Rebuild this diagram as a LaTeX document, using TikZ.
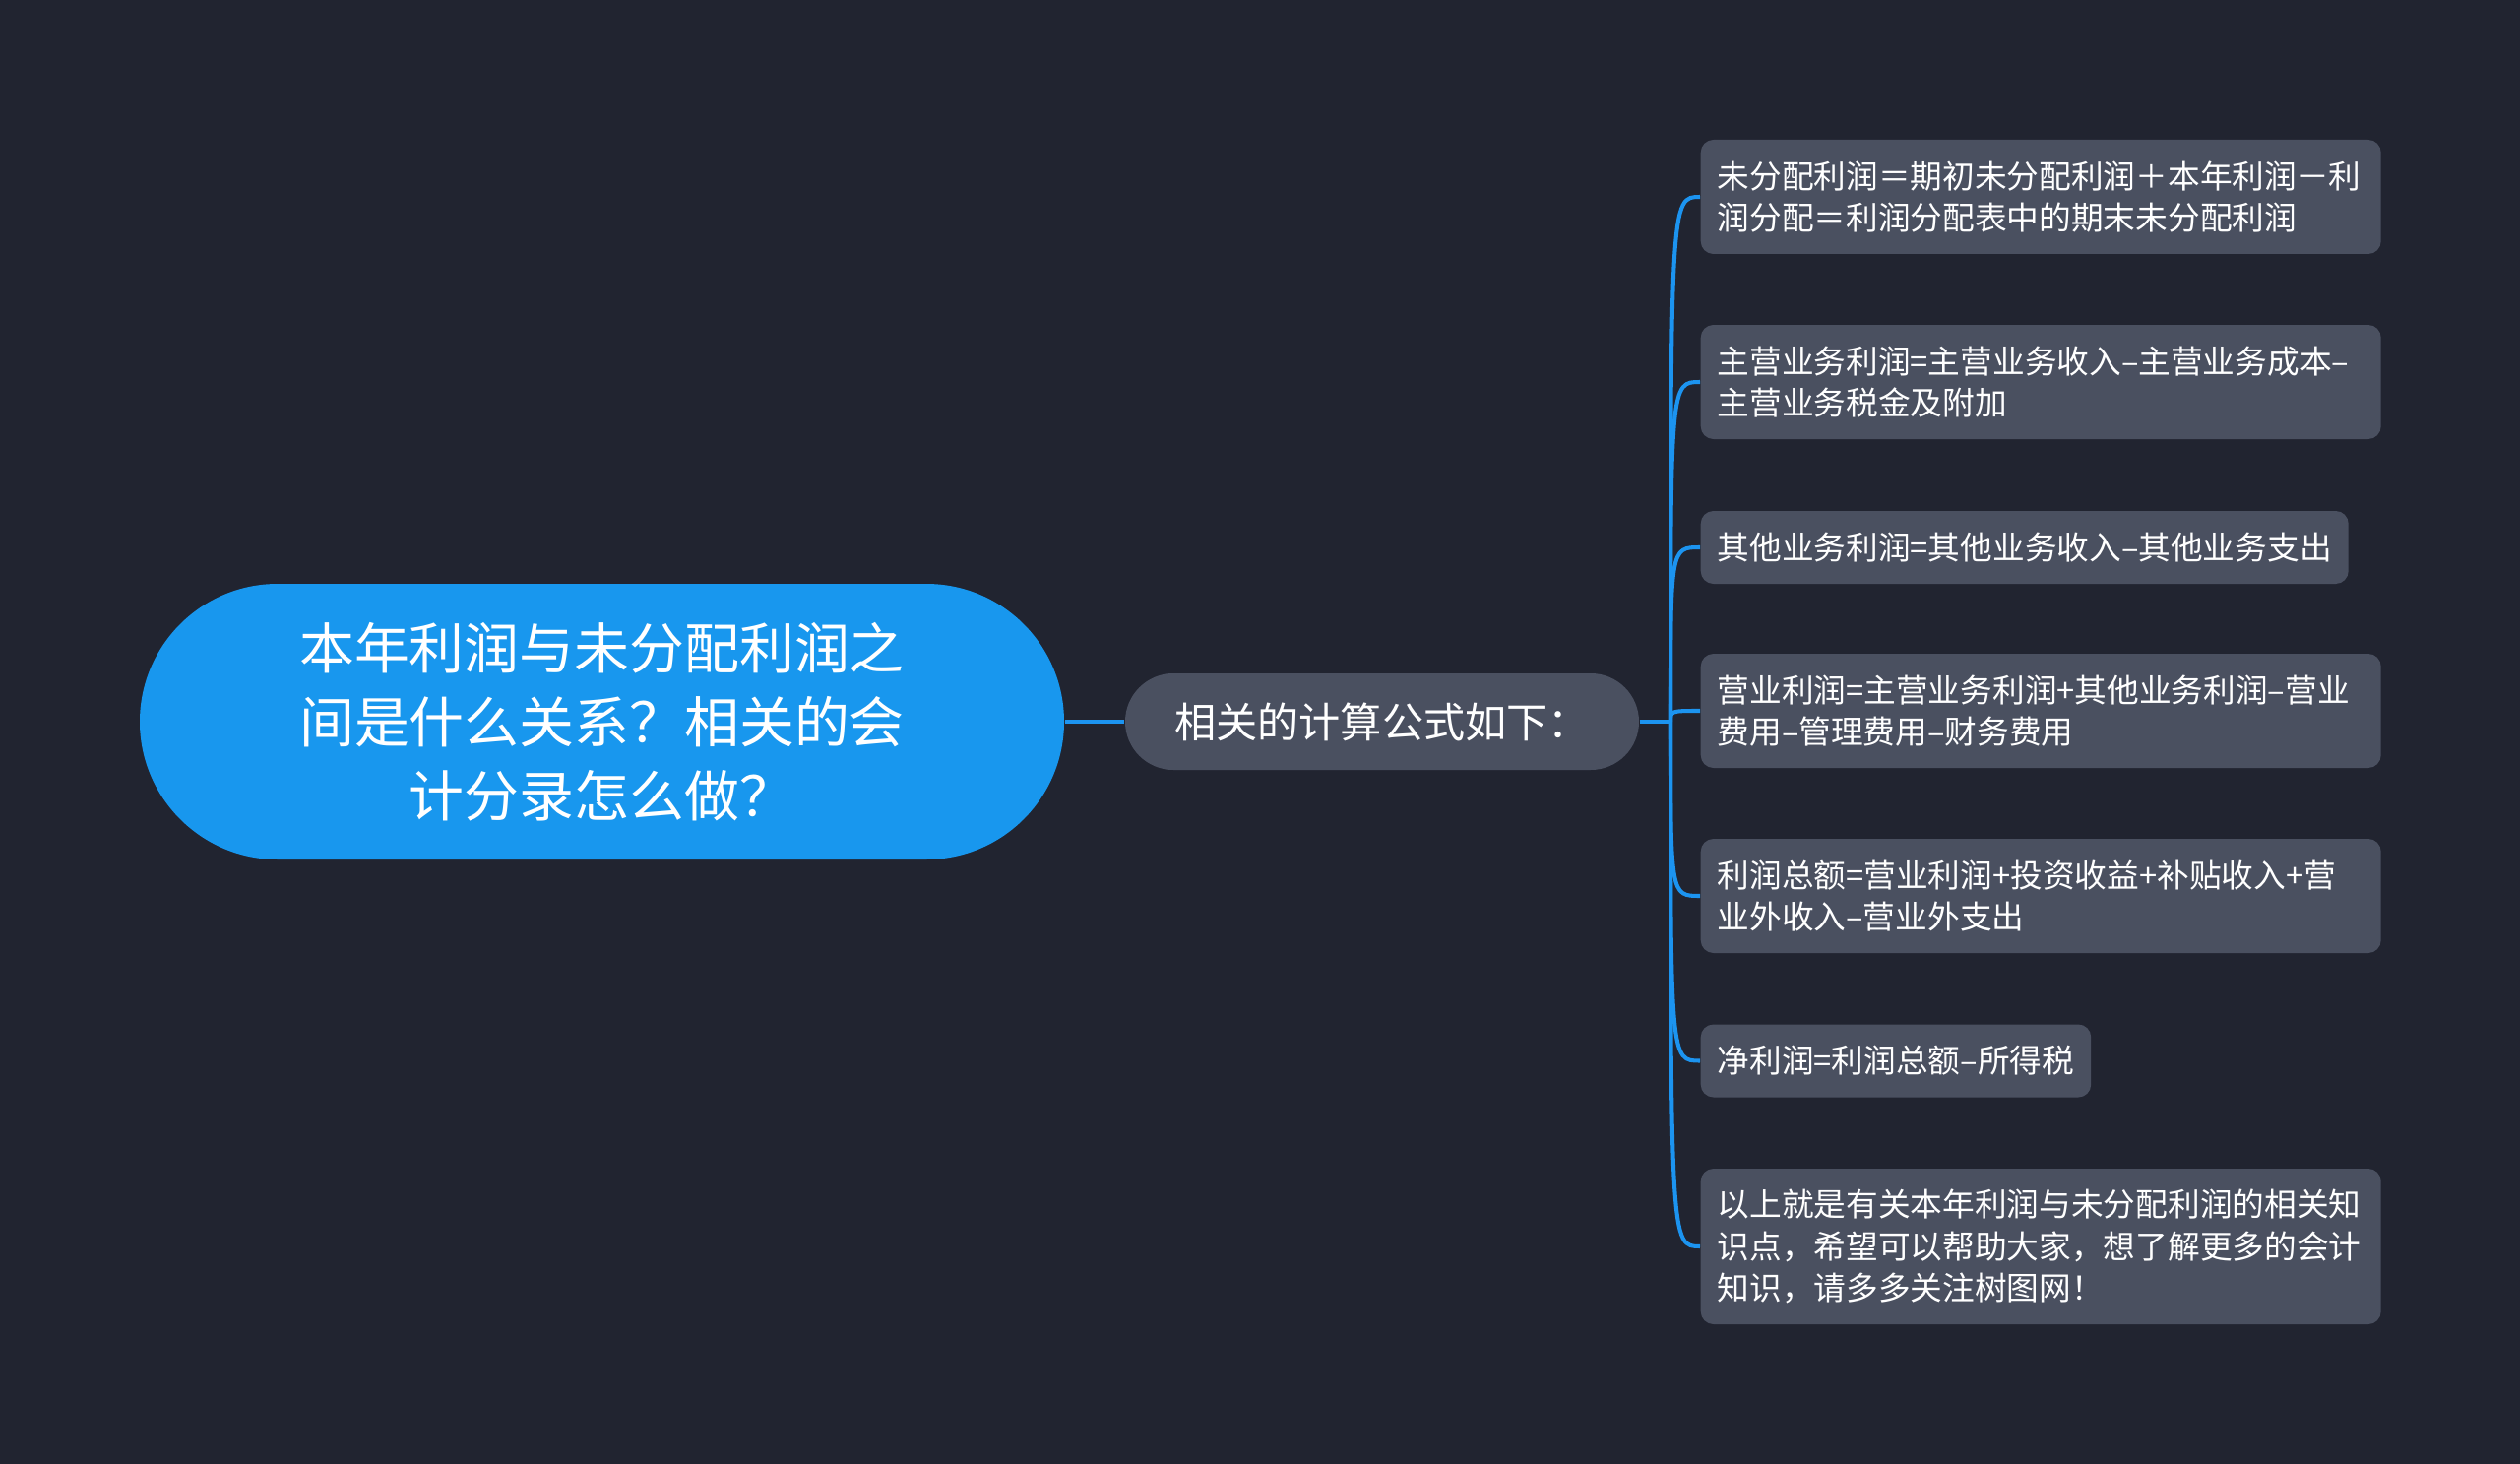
\documentclass[tikz,border=0pt]{standalone}
\usepackage{fontspec}
\setmainfont{Noto Sans CJK SC}
\usepackage{xcolor}
\usepackage{tikz}

\definecolor{bgdark}{RGB}{33,36,48}
\definecolor{boxgray}{RGB}{74,80,96}
\definecolor{rootblue}{RGB}{24,151,238}
\definecolor{linkblue}{RGB}{28,148,240}

\begin{document}
\begin{tikzpicture}[
  leaf/.style={fill=boxgray,text=white,rounded corners=0.13cm,anchor=west,align=left,
    inner xsep=0.17cm,inner ysep=0pt,font=\fontsize{9.3}{12}\selectfont},
  wide/.style={text width=6.57cm},
  link/.style={draw=linkblue,line width=1.15pt}]
\fill[bgdark] (0,0) rectangle (25.6,-14.87);
\useasboundingbox (0,0) rectangle (25.6,-14.87);
\node[fill=rootblue,text=white,rounded corners=1.4cm,minimum width=9.39cm,minimum height=2.8cm,
  align=center,font=\fontsize{15.9}{21.3}\selectfont] (root) at (6.115,-7.33)
  {本年利润与未分配利润之\\间是什么关系？相关的会\\计分录怎么做？};
\node[fill=boxgray,text=white,rounded corners=0.49cm,minimum width=5.22cm,minimum height=0.98cm,
  font=\fontsize{12}{14}\selectfont] (calc) at (14.04,-7.33) {相关的计算公式如下：};
\node[leaf,wide,minimum height=1.16cm] (f1) at (17.27,-2.00)
  {未分配利润＝期初未分配利润＋本年利润－利\\润分配＝利润分配表中的期末未分配利润};
\node[leaf,wide,minimum height=1.16cm] (f2) at (17.27,-3.88)
  {主营业务利润=主营业务收入–主营业务成本–\\主营业务税金及附加};
\node[leaf,minimum height=0.74cm] (f3) at (17.27,-5.56)
  {其他业务利润=其他业务收入–其他业务支出};
\node[leaf,wide,minimum height=1.16cm] (f4) at (17.27,-7.22)
  {营业利润=主营业务利润+其他业务利润–营业\\费用–管理费用–财务费用};
\node[leaf,wide,minimum height=1.16cm] (f5) at (17.27,-9.10)
  {利润总额=营业利润+投资收益+补贴收入+营\\业外收入–营业外支出};
\node[leaf,minimum height=0.74cm] (f6) at (17.27,-10.775)
  {净利润=利润总额–所得税};
\node[leaf,wide,minimum height=1.58cm] (f7) at (17.27,-12.66)
  {以上就是有关本年利润与未分配利润的相关知\\识点，希望可以帮助大家，想了解更多的会计\\知识，请多多关注树图网！};
\coordinate (br) at (16.97,-7.33);
\draw[link,line width=1.4pt] (root.east) -- (calc.west);
\draw[link] (calc.east) -- (br);
\foreach \n in {f1,f2,f3,f4,f5,f6,f7}
  \draw[link] (br) .. controls (br |- \n.west) .. (\n.west);
\end{tikzpicture}
\end{document}
